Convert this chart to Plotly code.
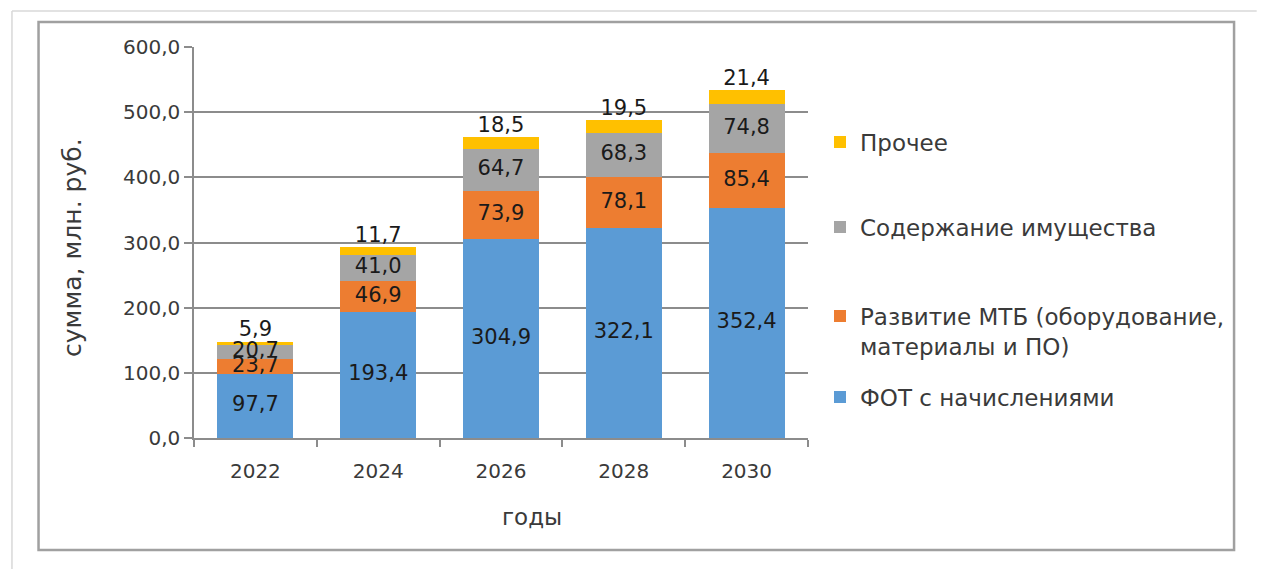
import plotly.graph_objects as go

years = ["2022", "2024", "2026", "2028", "2030"]
fot = [97.7, 193.4, 304.9, 322.1, 352.4]
mtb = [23.7, 46.9, 73.9, 78.1, 85.4]
prop = [20.7, 41.0, 64.7, 68.3, 74.8]
other = [5.9, 11.7, 18.5, 19.5, 21.4]

names = ["ФОТ с начислениями",
         "Развитие МТБ (оборудование,<br>материалы и ПО)",
         "Содержание имущества",
         "Прочее"]
colors = ["#5B9BD5", "#ED7D31", "#A5A5A5", "#FFC000"]
series = [fot, mtb, prop, other]
legend_ids = ["legend4", "legend3", "legend2", "legend"]
legend_y_px = [397, 331, 227, 142]
legend_valign = ["middle", "top", "middle", "middle"]

W, H = 1274, 569
FONT = "DejaVu Sans"
LABEL_COLOR = "#1a1a1a"
TEXT_COLOR = "#3a3a3a"

def fmt(v):
    return f"{v:.1f}".replace(".", ",")

fig = go.Figure()
for vals, name, col, lg in zip(series, names, colors, legend_ids):
    fig.add_trace(go.Bar(
        x=years, y=vals, name=name, marker=dict(color=col, line=dict(width=0)),
        legend=lg, hoverinfo="skip",
    ))

# data labels
cum = [0.0] * len(years)
for i, vals in enumerate(series):
    if i < 3:
        ys = [c + v / 2 for c, v in zip(cum, vals)]
        pos = "middle center"
    else:
        ys = [c + v for c, v in zip(cum, vals)]
        pos = "top center"
    fig.add_trace(go.Scatter(
        x=years, y=ys, mode="text", text=[fmt(v) for v in vals],
        textposition=pos, showlegend=False, hoverinfo="skip",
        textfont=dict(family=FONT, size=21, color=LABEL_COLOR),
    ))
    cum = [c + v for c, v in zip(cum, vals)]

gridc = "#8c8c8c"
fig.update_layout(
    width=W, height=H,
    margin=dict(l=194, r=W - 818, t=47, b=H - 438),
    barmode="stack", bargap=0.38,
    plot_bgcolor="white", paper_bgcolor="white",
    font=dict(family=FONT, color=TEXT_COLOR),
    xaxis=dict(
        type="category", showline=True, linecolor=gridc, linewidth=1.5,
        ticks="outside", tickson="boundaries", ticklen=7, tickcolor=gridc, tickwidth=1.5,
        tickfont=dict(size=20, color=TEXT_COLOR), showgrid=False,
        ticklabelstandoff=14,
    ),
    yaxis=dict(
        range=[0, 600], tickvals=[0, 100, 200, 300, 400, 500, 600],
        ticktext=["0,0", "100,0", "200,0", "300,0", "400,0", "500,0", "600,0"],
        showgrid=True, gridcolor=gridc, gridwidth=1.5,
        showline=True, linecolor=gridc, linewidth=1.5,
        ticks="outside", ticklen=8, tickcolor=gridc, tickwidth=1.5,
        tickfont=dict(size=20, color=TEXT_COLOR), zeroline=False,
    ),
    annotations=[
        dict(text="сумма, млн. руб.", xref="paper", yref="paper",
             x=(71 - 194) / 624, y=(438 - 247) / 391, textangle=-90,
             showarrow=False, font=dict(size=25, color=TEXT_COLOR, family=FONT),
             xanchor="center", yanchor="middle"),
        dict(text="годы", xref="paper", yref="paper",
             x=(538 - 194) / 624, y=(438 - 517) / 391, showarrow=False,
             font=dict(size=23, color=TEXT_COLOR, family=FONT),
             xanchor="center", yanchor="middle"),
    ],
    shapes=[
        dict(type="rect", xref="paper", yref="paper",
             x0=(36 - 194) / 624, x1=(1251 - 194) / 624,
             y0=(438 - 550) / 391, y1=(438 - 22) / 391,
             line=dict(color="#a0a0a0", width=2.5), fillcolor="rgba(0,0,0,0)", layer="below"),
        dict(type="line", xref="paper", yref="paper",
             x0=(9 - 194) / 624, x1=(1274 - 194) / 624,
             y0=(438 - 11) / 391, y1=(438 - 11) / 391,
             line=dict(color="#d8d8d8", width=1.5)),
        dict(type="line", xref="paper", yref="paper",
             x0=(9 - 194) / 624, x1=(9 - 194) / 624,
             y0=(438 - 569) / 391, y1=(438 - 11) / 391,
             line=dict(color="#d8d8d8", width=1.5)),
    ],
)

for lg, ypx, va in zip(legend_ids, legend_y_px, legend_valign):
    fig.update_layout({lg: dict(
        xref="container", yref="container", x=820 / W, y=1 - ypx / H,
        xanchor="left", yanchor="middle", bgcolor="rgba(0,0,0,0)",
        font=dict(family=FONT, size=23, color=TEXT_COLOR), valign=va,
        itemclick=False, itemdoubleclick=False,
    )})

fig.write_html("out.html")
